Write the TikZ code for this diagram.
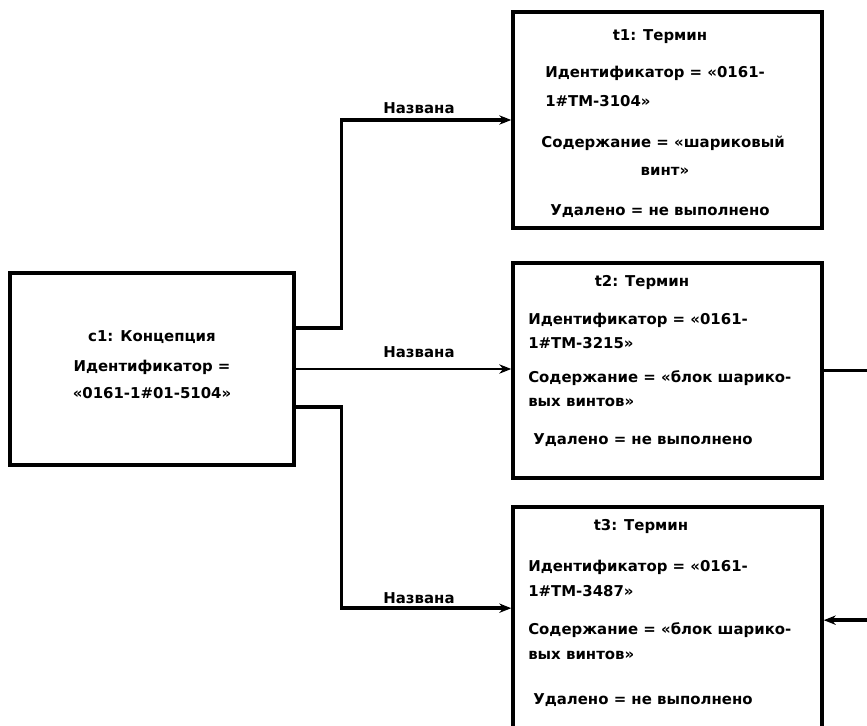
\documentclass[tikz,border=0pt]{standalone}
\usepackage{fontspec}
\setmainfont{DejaVu Sans}
\usetikzlibrary{arrows.meta,fit}

\tikzset{
  box/.style={draw, line width=2.6pt, inner sep=0pt},
  txt/.style={font=\bfseries\fontsize{11.2}{13}\selectfont, inner sep=0pt},
  link/.style={line width=2.6pt},
  thinlink/.style={line width=1.6pt},
  tip/.style={-{Stealth[length=9pt,width=7pt]}}
}

\begin{document}
\begin{tikzpicture}[x=0.75pt,y=-0.75pt]
\clip (0,0) rectangle (867,725);
% boxes
\node[box, fit={(10,273) (294,465)}] (c1) {};
\node[box, fit={(513,12) (822,228)}] (t1) {};
\node[box, fit={(513,263) (822,478)}] (t2) {};
\node[box, fit={(513,507) (822,760)}] (t3) {};
\coordinate (edge) at (880,0);
% c1
\node[txt] (c1name) at (152,337) {c1: Концепция};
\node[txt] (c1id1) at (152,367) {Идентификатор =};
\node[txt] (c1id2) at (152,393) {«0161-1\#01-5104»};
% t1
\node[txt] (t1name) at (660,37) {t1: Термин};
\node[txt,anchor=west] (t1id1) at (545,73) {Идентификатор = «0161-};
\node[txt,anchor=west] (t1id2) at (545,101) {1\#TM-3104»};
\node[txt] (t1con1) at (663,143) {Содержание = «шариковый};
\node[txt] (t1con2) at (665,171) {винт»};
\node[txt] (t1del) at (660,211) {Удалено = не выполнено};
% t2
\node[txt] (t2name) at (642,283) {t2: Термин};
\node[txt,anchor=west] (t2id1) at (528,320) {Идентификатор = «0161-};
\node[txt,anchor=west] (t2id2) at (528,343) {1\#TM-3215»};
\node[txt,anchor=west] (t2con1) at (528,378) {Содержание = «блок шарико-};
\node[txt,anchor=west] (t2con2) at (528,402) {вых винтов»};
\node[txt,anchor=west] (t2del) at (533,440) {Удалено = не выполнено};
% t3
\node[txt] (t3name) at (641,527) {t3: Термин};
\node[txt,anchor=west] (t3id1) at (528,567) {Идентификатор = «0161-};
\node[txt,anchor=west] (t3id2) at (528,591) {1\#TM-3487»};
\node[txt,anchor=west] (t3con1) at (528,630) {Содержание = «блок шарико-};
\node[txt,anchor=west] (t3con2) at (528,655) {вых винтов»};
\node[txt,anchor=west] (t3del) at (533,700) {Удалено = не выполнено};
% connectors
\draw[link,tip] ([yshift=30.75pt]c1.east) -- ++(46,0) |- (t1.west);
\draw[thinlink,tip] (c1.east) -- (c1.east -| t2.west);
\draw[link,tip] ([yshift=-28.5pt]c1.east) -- ++(46,0) |- ([yshift=19pt]t3.west);
\draw[thinlink] (t2.east) -- (t2.east -| edge);
\draw[link,tip] ([yshift=10pt]t3.east -| edge) -- ([yshift=10pt]t3.east);
\node[txt] (lab1) at (419,108) {Названа};
\node[txt] (lab2) at (419,352) {Названа};
\node[txt] (lab3) at (419,598) {Названа};
\end{tikzpicture}
\end{document}
